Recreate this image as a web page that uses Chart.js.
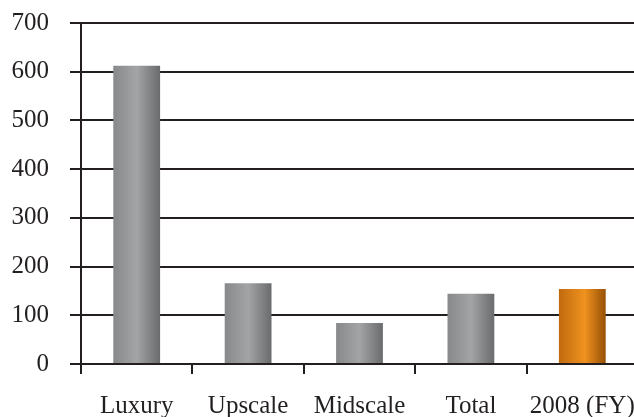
<!DOCTYPE html>
<html><head><meta charset="utf-8">
<script src="https://cdn.jsdelivr.net/npm/chart.js@4/dist/chart.umd.min.js"></script>
<style>html,body{margin:0;padding:0;background:#fff;overflow:hidden;}#wrap{width:634px;height:417px;overflow:hidden;}</style>
</head><body><div id="wrap"><canvas id="c" width="638" height="417"></canvas></div>
<script>
const categories = ["Luxury", "Upscale", "Midscale", "Total", "2008 (FY)"];
const values = [612, 166, 84, 144, 154];
const highlight = [false, false, false, false, true];
const yTicks = [0, 100, 200, 300, 400, 500, 600, 700];

const ink = '#231f20';
function barGradient(ctx) {
  const chart = ctx.chart;
  const xs = chart.scales.x;
  if (!xs || !chart.chartArea) return '#8c8d8f';
  const i = ctx.dataIndex;
  const cx = xs.getPixelForValue(i);
  const w = (xs.width / categories.length) * 0.42;
  const g = chart.ctx.createLinearGradient(cx - w / 2, 0, cx + w / 2, 0);
  if (highlight[i]) {
    g.addColorStop(0, '#c06a0e'); g.addColorStop(0.55, '#f0921f'); g.addColorStop(1, '#965006');
  } else {
    g.addColorStop(0, '#88898b'); g.addColorStop(0.5, '#a3a4a6'); g.addColorStop(1, '#6a6b6d');
  }
  return g;
}

new Chart(document.getElementById('c'), {
  type: 'bar',
  data: { labels: categories, datasets: [{ data: values, backgroundColor: barGradient, borderWidth: 0, barPercentage: 0.42, categoryPercentage: 1 }] },
  options: {
    responsive: false, animation: false,
    layout: { padding: { top: 23, right: 0, left: 0, bottom: 0 } },
    plugins: { legend: { display: false }, tooltip: { enabled: false } },
    scales: {
      x: {
        grid: { offset: true, drawOnChartArea: false, drawTicks: true, tickLength: 10, color: ink, lineWidth: 2 },
        border: { display: true, color: ink, width: 2 },
        ticks: { color: ink, font: { family: 'Liberation Serif', size: 25 }, padding: 17, maxRotation: 0 },
        afterFit: s => { s.height = 53; s.paddingLeft = 0; s.paddingRight = 0; }
      },
      y: {
        min: 0, max: 700,
        afterBuildTicks: s => {
          const t = [];
          for (let v = 0; v <= 700; v += 50) t.push({ value: v });
          s.ticks = t;
        },
        grid: {
          color: c => (c.tick && c.tick.value % 100 === 0) ? ink : 'rgba(0,0,0,0)',
          tickColor: ink, lineWidth: 2, tickLength: 11, drawTicks: true
        },
        border: { display: true, color: ink, width: 2 },
        ticks: {
          color: ink, font: { family: 'Liberation Serif', size: 25 }, padding: 21,
          callback: v => yTicks.includes(v) ? String(v) : ''
        },
        afterFit: s => { s.width = 81; s.paddingTop = 0; s.paddingBottom = 0; }
      }
    }
  }
});
</script></body></html>
